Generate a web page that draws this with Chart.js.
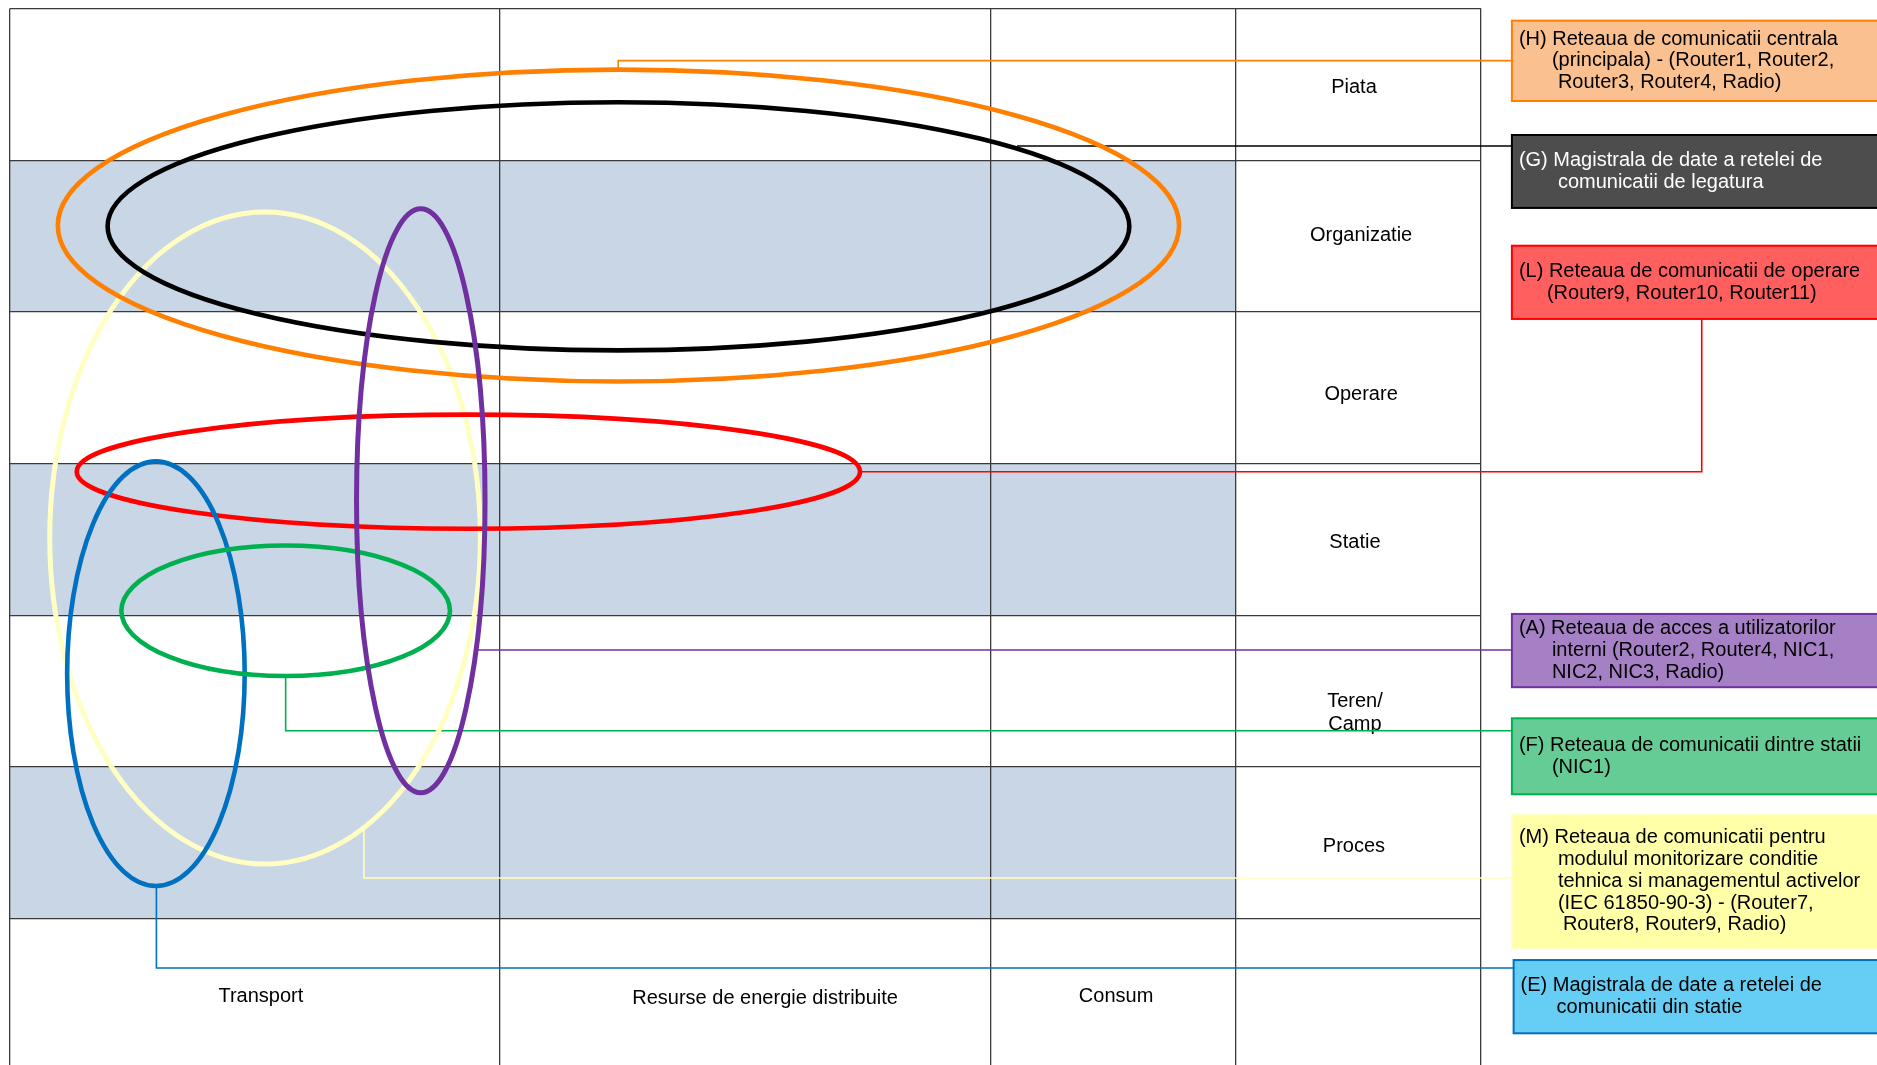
<!DOCTYPE html>
<html>
<head>
<meta charset="utf-8">
<script src="https://cdn.jsdelivr.net/npm/chart.js@4/dist/chart.umd.min.js"></script>
<style>
    html, body { margin: 0; padding: 0; background: #fff; }
    .chart-grid-container { width: 1877px; height: 1065px; position: relative; }
</style>
</head>
<body>
<div class="chart-grid-container"><canvas id="chart-grid"></canvas></div>
<script>
// rows of the grid (top to bottom) and columns
let layers = ['Piata', 'Organizatie', 'Operare', 'Statie', 'Teren/\nCamp', 'Proces'];
let domains = ['Transport', 'Resurse de energie distribuite', 'Consum'];
let rowEdges = [0, 1, 2, 3, 4, 5, 6];
let colEdges = [0, 2, 4, 5, 6];
let shadedRows = [1, 3, 5];

// networks drawn as rings over the grid
let networks = ['M', 'H', 'G', 'L', 'E', 'F', 'A'];
let ringCenterX = [1.042, 2.483, 2.483, 1.871, 0.597, 1.126, 1.677];
let ringCenterY = [3.491, 1.431, 1.436, 3.054, 4.386, 3.971, 3.246];
let ringRadiusX = [0.878, 2.286, 2.083, 1.597, 0.362, 0.670, 0.262];
let ringRadiusY = [2.150, 1.028, 0.818, 0.376, 1.400, 0.430, 1.925];

// network descriptions (boxes on the right)
let boxText = {
    H: ['(H) Reteaua de comunicatii centrala', '(principala) - (Router1, Router2,', 'Router3, Router4, Radio)'],
    G: ['(G) Magistrala de date a retelei de', 'comunicatii de legatura'],
    L: ['(L) Reteaua de comunicatii de operare', '(Router9, Router10, Router11)'],
    A: ['(A) Reteaua de acces a utilizatorilor', 'interni (Router2, Router4, NIC1,', 'NIC2, NIC3, Radio)'],
    F: ['(F) Reteaua de comunicatii dintre statii', '(NIC1)'],
    M: ['(M) Reteaua de comunicatii pentru', 'modulul monitorizare conditie', 'tehnica si managementul activelor', '(IEC 61850-90-3) - (Router7,', 'Router8, Router9, Radio)'],
    E: ['(E) Magistrala de date a retelei de', 'comunicatii din statie']
};

// styles
let ringColor = { H: '#FF8000', G: '#000000', L: '#FF0000', A: '#7030A0', F: '#00B050', M: '#FFFFC4', E: '#0070C0' };
let boxFill = { H: '#FAC090', G: '#4D4D4D', L: '#FF5F5F', A: '#A680C4', F: '#66CC95', M: '#FFFFA8', E: '#66CDF5' };
let boxBorder = { H: '#FF8000', G: '#000000', L: '#FF0000', A: '#7030A0', F: '#00B050', M: '#FFFFC8', E: '#0070C0' };
let boxTextColor = { G: '#FFFFFF' };

// box placement (grid units: left, top, bottom) and line indents (px)
let boxPlace = {
    H: [6.126, 0.080, 0.610, [7, 40, 46]],
    G: [6.126, 0.834, 1.315, [7, 46]],
    L: [6.126, 1.564, 2.047, [7, 35]],
    A: [6.126, 3.992, 4.475, [7, 40, 40]],
    F: [6.126, 4.680, 5.181, [7, 40]],
    M: [6.126, 5.313, 6.197, [7, 46, 46, 46, 51]],
    E: [6.133, 6.274, 6.757, [7, 43]]
};

// connector paths (grid units), from ring to box
let connectors = {
    H: [[2.482, 0.392], [2.482, 0.344], [6.126, 0.344]],
    G: [[4.108, 0.907], [6.126, 0.907]],
    L: [[3.468, 3.054], [6.900, 3.054], [6.900, 2.047]],
    A: [[1.905, 4.230], [6.126, 4.230]],
    F: [[1.126, 4.401], [1.126, 4.762], [6.126, 4.762]],
    M: [[1.445, 5.405], [1.445, 5.733], [6.126, 5.733]],
    E: [[0.599, 5.786], [0.599, 6.326], [6.133, 6.326]]
};

// label positions (grid units)
let layerLabelPos = [[5.482, 0.520], [5.511, 1.495], [5.511, 2.545], [5.486, 3.518], [5.486, 4.645], [5.482, 5.528]];
let domainLabelPos = [[1.025, 6.511], [3.081, 6.530], [4.512, 6.511]];

Chart.defaults.font.family = "'Liberation Sans', Arial, sans-serif";

// background and shaded rows, under the grid
let bandsPlugin = {
    id: 'bands',
    beforeDraw(chart) {
        let ctx = chart.ctx, sx = chart.scales.x, sy = chart.scales.y;
        ctx.save();
        ctx.fillStyle = '#FFFFFF';
        ctx.fillRect(0, 0, chart.width, chart.height);
        ctx.fillStyle = '#C8D6E5';
        shadedRows.forEach(r => {
            let x0 = sx.getPixelForValue(0), x1 = sx.getPixelForValue(5);
            let y0 = sy.getPixelForValue(r), y1 = sy.getPixelForValue(r + 1);
            ctx.fillRect(x0, y0, x1 - x0, y1 - y0);
        });
        ctx.restore();
    }
};

// labels, connectors, rings and description boxes
let networkPlugin = {
    id: 'networks',
    afterDatasetsDraw(chart) {
        let ctx = chart.ctx, sx = chart.scales.x, sy = chart.scales.y;
        let meta = chart.getDatasetMeta(0);
        ctx.save();

        // grid labels
        ctx.font = "20px 'Liberation Sans', Arial, sans-serif";
        ctx.fillStyle = '#000';
        ctx.textAlign = 'center';
        ctx.textBaseline = 'middle';
        layers.forEach((name, i) => {
            let lines = name.split('\n');
            let x = sx.getPixelForValue(layerLabelPos[i][0]);
            let y = sy.getPixelForValue(layerLabelPos[i][1]);
            lines.forEach((t, k) => ctx.fillText(t, x, y + (k - (lines.length - 1) / 2) * 22.6));
        });
        domains.forEach((name, i) => {
            ctx.fillText(name, sx.getPixelForValue(domainLabelPos[i][0]), sy.getPixelForValue(domainLabelPos[i][1]));
        });

        // connectors
        ctx.lineWidth = 1.6;
        Object.keys(connectors).forEach(k => {
            ctx.strokeStyle = boxBorder[k] === '#FFFFC8' ? '#FFFFB8' : ringColor[k];
            ctx.beginPath();
            connectors[k].forEach((p, j) => {
                let x = sx.getPixelForValue(p[0]), y = sy.getPixelForValue(p[1]);
                if (j === 0) ctx.moveTo(x, y); else ctx.lineTo(x, y);
            });
            ctx.stroke();
        });

        // rings
        networks.forEach((k, i) => {
            let el = meta.data[i];
            let rx = Math.abs(sx.getPixelForValue(ringCenterX[i] + ringRadiusX[i]) - el.x);
            let ry = Math.abs(sy.getPixelForValue(ringCenterY[i] + ringRadiusY[i]) - el.y);
            ctx.strokeStyle = ringColor[k];
            ctx.lineWidth = k === 'A' || k === 'M' ? 5 : 4.6;
            ctx.beginPath();
            ctx.ellipse(el.x, el.y, rx, ry, 0, 0, Math.PI * 2);
            ctx.stroke();
        });

        // description boxes
        ctx.textAlign = 'left';
        Object.keys(boxText).forEach(k => {
            let p = boxPlace[k];
            let x = sx.getPixelForValue(p[0]);
            let y0 = sy.getPixelForValue(p[1]), y1 = sy.getPixelForValue(p[2]);
            ctx.fillStyle = boxFill[k];
            ctx.fillRect(x, y0, chart.width - x + 4, y1 - y0);
            ctx.strokeStyle = boxBorder[k];
            ctx.lineWidth = 2;
            ctx.strokeRect(x, y0, chart.width - x + 4, y1 - y0);
            ctx.fillStyle = boxTextColor[k] || '#000';
            let lines = boxText[k];
            let mid = (y0 + y1) / 2;
            lines.forEach((t, j) => {
                ctx.fillText(t, x + p[3][j], mid + (j - (lines.length - 1) / 2) * 21.8);
            });
        });
        ctx.restore();
    }
};

let chartGrid = document.getElementById('chart-grid').getContext('2d');

let gridChart = new Chart(chartGrid, {
    type: 'scatter',
    data: {
        datasets: [{
            label: 'Retele',
            data: networks.map((k, i) => ({ x: ringCenterX[i], y: ringCenterY[i] })),
            pointRadius: 0,
            pointHoverRadius: 0
        }]
    },
    options: {
        responsive: true,
        maintainAspectRatio: false,
        animation: false,
        events: [],
        layout: { padding: { left: 9.5, top: 8.5, right: 396, bottom: 0 } },
        plugins: { legend: { display: false }, tooltip: { enabled: false } },
        scales: {
            x: {
                type: 'linear', min: 0, max: 6,
                afterBuildTicks: s => { s.ticks = colEdges.map(v => ({ value: v })); },
                afterFit: s => { s.height = 0; },
                ticks: { display: false },
                border: { display: false },
                grid: { color: '#3A3A3A', lineWidth: 1.3, drawTicks: false }
            },
            y: {
                type: 'linear', min: 0, max: 6.966, reverse: true,
                afterBuildTicks: s => { s.ticks = rowEdges.map(v => ({ value: v })); },
                afterFit: s => { s.width = 0; },
                ticks: { display: false },
                border: { display: false },
                grid: { color: '#3A3A3A', lineWidth: 1.3, drawTicks: false }
            }
        }
    },
    plugins: [bandsPlugin, networkPlugin]
});
</script>
</body>
</html>
